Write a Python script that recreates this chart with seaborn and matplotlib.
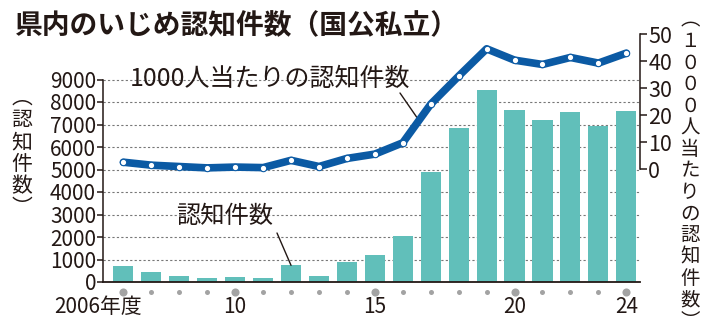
import numpy as np
import pandas as pd
import matplotlib
matplotlib.use("Agg")
import matplotlib.pyplot as plt
import matplotlib.transforms as mtransforms
import seaborn as sns

# ---- data ----
years = [2006, 2007, 2008, 2009, 2010, 2011, 2012, 2013, 2014, 2015,
         2016, 2017, 2018, 2019, 2020, 2021, 2022, 2023, 2024]
counts = [720, 440, 280, 160, 220, 160, 740, 250, 870, 1210,
          2040, 4900, 6840, 8550, 7650, 7210, 7550, 6920, 7580]
rates = [2.7, 1.6, 1.1, 0.6, 0.9, 0.7, 3.4, 1.1, 4.1, 5.7,
         9.9, 24.2, 34.6, 44.7, 40.5, 38.9, 41.5, 39.4, 43.1]
label_years = [2006, 2010, 2015, 2020, 2024]
label_texts = ["2006年度", "10", "15", "20", "24"]
left_ticks = [0, 1000, 2000, 3000, 4000, 5000, 6000, 7000, 8000, 9000]
right_ticks = [0, 10, 20, 30, 40, 50]
title = "県内のいじめ認知件数（国公私立）"
line_label = "1000人当たりの認知件数"
bar_label = "認知件数"
left_vlabel = ["︵", "認", "知", "件", "数", "︶"]
right_vlabel = ["︵", "１", "０", "０", "０", "人", "当", "た", "り", "の",
                "認", "知", "件", "数", "︶"]

# ---- style ----
sns.set_style("white")
plt.rcParams["font.family"] = ["Noto Sans CJK JP", "DejaVu Sans"]
TXT = "#231815"
BAR = "#61bfba"
LINE = "#0b5aa4"

W, H = 720, 334
fig = plt.figure(figsize=(W / 100, H / 100), dpi=100)
ax = fig.add_axes([103 / W, (H - 282) / H, (640 - 103) / W, (282 - 34.5) / H])

df = pd.DataFrame({"year": [str(y) for y in years], "count": counts,
                   "pos": np.arange(len(years)), "rate": rates})

sns.barplot(data=df, x="year", y="count", ax=ax, color=BAR, width=0.72,
            saturation=1, edgecolor="none", zorder=2)
ax.set_xlim(-0.73, len(years) - 1 + 0.49)
ax.set_ylim(0, 11000)
ax.set_xlabel("")
ax.set_ylabel("")
ax.set_xticks([])
ax.set_yticks(left_ticks)
ax.set_yticklabels([str(t) for t in left_ticks], fontsize=15, color=TXT)
ax.tick_params(axis="y", direction="out", length=4, width=1.1, color=TXT, pad=1)
ax.set_axisbelow(True)
ax.yaxis.grid(True, color="#777777", lw=0.8, linestyle=(0, (2, 2)))
for s in ["top", "right"]:
    ax.spines[s].set_visible(False)
ax.spines["left"].set_bounds(0, 9000)
ax.spines["left"].set_color(TXT)
ax.spines["left"].set_linewidth(1.1)
ax.spines["bottom"].set_color(TXT)
ax.spines["bottom"].set_linewidth(1.3)
ax.spines["bottom"].set_zorder(3)

# twin axis for per-1000 rate
ax2 = ax.twinx()
sns.lineplot(data=df, x="pos", y="rate", ax=ax2, color=LINE, lw=5.5,
             marker="o", markersize=4.6, markerfacecolor="white",
             markeredgecolor=LINE, markeredgewidth=0.8, zorder=5)
ax2.set_xlim(-0.73, len(years) - 1 + 0.49)
ax2.set_ylim(-5000 / 120, 50)
ax2.set_xlabel("")
ax2.set_ylabel("")
ax2.set_yticks(right_ticks)
ax2.set_yticklabels([str(t) for t in right_ticks], fontsize=15.5, color=TXT)
ax2.tick_params(axis="y", direction="out", length=5, width=1.1, color=TXT, pad=1)
for s in ["top", "left", "bottom"]:
    ax2.spines[s].set_visible(False)
ax2.spines["right"].set_bounds(0, 50)
ax2.spines["right"].set_color(TXT)
ax2.spines["right"].set_linewidth(1.1)

# bottom dot markers and year labels
trans = mtransforms.blended_transform_factory(ax.transData, ax.transAxes)
dot_y = -10 / 247.5
lab_y = -25 / 247.5
for i, y in enumerate(years):
    big = y in label_years
    ax.scatter([i], [dot_y], s=34 if big else 13, color="#a3a3a3",
               transform=trans, clip_on=False, zorder=4, linewidths=0)
for y, t in zip(label_years, label_texts):
    i = years.index(y)
    if t.endswith("年度"):
        ax.text(i + 0.67, lab_y, t, transform=trans, ha="right", va="center",
                fontsize=15, color=TXT)
    else:
        ax.text(i, lab_y, t, transform=trans, ha="center", va="center",
                fontsize=15, color=TXT)

# title
fig.text(15 / W, (H - 26) / H, title, fontsize=20, fontweight="bold",
         color=TXT, ha="left", va="center")

# annotations
fig.text(270 / W, (H - 79) / H, line_label, fontsize=18, color=TXT,
         ha="center", va="center")
i_an = 10.5
ax2.annotate("", xy=(i_an, (rates[10] + rates[11]) / 2 + 2.3),
             xytext=(400, H - 93), textcoords="figure pixels",
             arrowprops=dict(arrowstyle="-", lw=1.0, color=TXT,
                             shrinkA=0, shrinkB=0))
fig.text(225 / W, (H - 216) / H, bar_label, fontsize=17.5, color=TXT,
         ha="center", va="center")
ib = years.index(2012)
ax.annotate("", xy=(ib, counts[ib]), xytext=(277, H - 233),
            textcoords="figure pixels",
            arrowprops=dict(arrowstyle="-", lw=1.0, color=TXT,
                            shrinkA=0, shrinkB=0))

# vertical axis titles
for k, ch in enumerate(left_vlabel):
    fig.text(22 / W, (H - (98 + k * 22)) / H, ch, fontsize=15, color=TXT,
             ha="center", va="center")
n = len(right_vlabel)
for k, ch in enumerate(right_vlabel):
    yy = 20 + k * (322 - 20) / (n - 1)
    fig.text(690 / W, (H - yy) / H, ch, fontsize=14, color=TXT,
             ha="center", va="center")

fig.savefig("out.png", dpi=100, facecolor="white")
